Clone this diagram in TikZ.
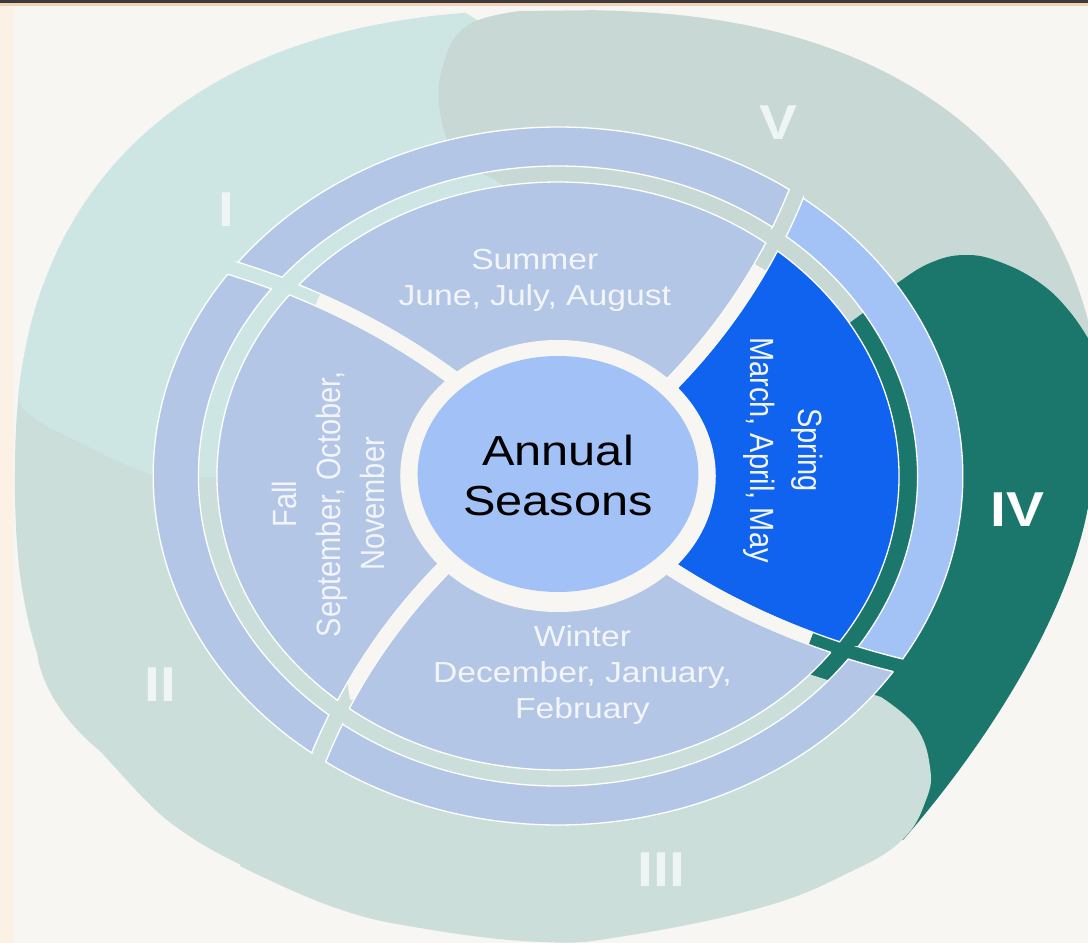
\documentclass[tikz,border=0pt]{standalone}
\usepackage{fontspec}
\setmainfont{Liberation Sans}
\definecolor{cream}{HTML}{F8F6F2}
\definecolor{edgepeach}{HTML}{FBF1E5}
\definecolor{topdark}{HTML}{3C3A3E}
\definecolor{toppeach}{HTML}{F3D2B4}
\definecolor{blobI}{HTML}{CDE5E3}
\definecolor{blobII}{HTML}{CBDEDA}
\definecolor{blobV}{HTML}{C8D9D5}
\definecolor{blobIV}{HTML}{1B776B}
\definecolor{seasonblue}{HTML}{B4C6E6}
\definecolor{springblue}{HTML}{0F63EE}
\definecolor{coreblue}{HTML}{A2C2F7}
\definecolor{bandlight}{HTML}{A3C3F6}
\definecolor{numlight}{HTML}{EEF5F4}
\definecolor{seasontext}{HTML}{F3F5FA}
% #1 style, #2 start separator, #3 end separator, #4 inner r, #5 outer r, #6 half gap
\newcommand{\ringsector}[6]{%
  \pgfmathsetmacro\rsAout{#2-7+0.05*#5+#6/#5*57.2958}%
  \pgfmathsetmacro\rsBout{#3-7+0.05*#5-#6/#5*57.2958}%
  \pgfmathsetmacro\rsAin{#2-7+0.05*#4+#6/#4*57.2958}%
  \pgfmathsetmacro\rsBin{#3-7+0.05*#4-#6/#4*57.2958}%
  \path[#1] plot[domain=#4:#5, samples=24, variable=\rr] ({#2-7+0.05*\rr+#6/\rr*57.2958}:{\rr})
    arc[start angle=\rsAout, end angle=\rsBout, radius=#5]
    -- plot[domain=#5:#4, samples=24, variable=\rr] ({#3-7+0.05*\rr-#6/\rr*57.2958}:{\rr})
    arc[start angle=\rsBin, end angle=\rsAin, radius=#4] -- cycle;}
\newcommand{\gapline}[1]{%
  \draw[cream, line width=14pt] plot[domain=124:272, samples=24, variable=\rr] ({#1-7+0.05*\rr}:{\rr});}
\begin{document}
\begin{tikzpicture}[x=1pt,y=1pt,
  seasonbox/.style={fill=seasonblue, draw=white, line width=1.3pt},
  springbox/.style={fill=springblue, draw=white, line width=1.3pt},
  bandbox/.style={fill=seasonblue, draw=white, line width=1.3pt},
  bandlightbox/.style={fill=bandlight, draw=white, line width=1.3pt},
  seasonlabel/.style={transform shape, text=seasontext, font=\fontsize{29}{36}\selectfont, align=center, inner sep=0pt},
  numeral/.style={transform shape, text=numlight, font=\fontsize{49}{49}\selectfont\bfseries, inner sep=0pt}]
\useasboundingbox (0,0) rectangle (1088,-943);
\fill[cream] (0,0) rectangle (1088,-943);
\fill[edgepeach] (0,0) rectangle (14,-943);
\fill[toppeach] (0,-2.5) rectangle (1088,-6);
\fill[topdark] (0,0) rectangle (1088,-2.5);
% background blobs (outline: superellipse centre (560,478), a=545, b=468)
\fill[blobII] (300,-380)
  -- plot[domain=160:198, samples=30, variable=\ang] ({560-545*pow(abs(cos(\ang)),0.8333)}, {-478-468*pow(abs(sin(\ang)),0.8333)*(sin(\ang)>0 ? -1 : 1)})
  .. controls (42,-690) and (70,-727) .. (100,-751)
  .. controls (125,-778) and (148,-805) .. (167,-820)
  .. controls (190,-838) and (215,-853) .. (250,-869)
  -- (350,-700) -- cycle;
\fill[blobI] (540,-60)
  -- plot[domain=97:172.8, samples=50, variable=\ang] ({560-545*pow(abs(cos(\ang)),0.8333)}, {-478+468*pow(abs(sin(\ang)),0.8333)})
  .. controls (16,-408) and (35,-422) .. (75,-440)
  .. controls (100,-452) and (130,-470) .. (165,-478)
  -- (300,-476) -- (500,-300) -- cycle;
\fill[blobV] plot[smooth, tension=0.7] coordinates {(520,-200) (497,-181) (459,-160) (440,-112) (444,-62) (468,-25) (520,-11)}
  -- plot[domain=88:10, samples=50, variable=\ang] ({560+545*pow(abs(cos(\ang)),0.8333)}, {-478+468*pow(abs(sin(\ang)),0.8333)})
  -- (1100,-420) -- (900,-420) -- (600,-300) -- cycle;
\fill[blobIV] plot[smooth, tension=0.7] coordinates {(875,-300) (896,-284) (930,-263) (965,-255) (1000,-262) (1040,-283) (1070,-312) (1092,-345)}
  -- (1092,-480) .. controls (1080,-600) and (990,-740) .. (903,-840)
  -- (780,-760) -- (760,-640) -- (780,-500) -- (840,-330) -- (863,-313) -- cycle;
\fill[blobII] plot[smooth, tension=0.7] coordinates {(240,-866) (333,-907) (420,-928) (541,-942) (625,-936) (763,-907) (850,-872) (902,-840) (926,-800) (930,-767) (916,-727) (881,-697)} -- (815,-676) -- (700,-640) -- (350,-700) -- cycle;
% wheel
\begin{scope}[shift={(558,-476)}, xscale=1.16]
  % outer band
  \ringsector{bandlightbox}{-43.3}{43.5}{310}{349}{7.5}
  \ringsector{bandbox}{43.5}{133}{310}{349}{7.5}
  \ringsector{bandbox}{133}{223.3}{310}{349}{7.5}
  \ringsector{bandbox}{223.3}{316.7}{310}{349}{7.5}
  % seasons
  \ringsector{springbox}{-43.3}{43.5}{128}{294}{6.5}
  \ringsector{seasonbox}{43.5}{133}{128}{294}{6.5}
  \ringsector{seasonbox}{133}{223.3}{128}{294}{6.5}
  \ringsector{seasonbox}{223.3}{316.7}{128}{294}{6.5}
  % separators and hub
  \gapline{43.5}
  \gapline{133}
  \gapline{223.3}
  \gapline{316.7}
  \fill[cream] (0,0) circle[radius=136];
  \fill[coreblue] (0,2) ellipse[x radius=121, y radius=118];
  % labels
  \node[transform shape, text=black, font=\fontsize{42}{50}\selectfont, align=center, inner sep=0pt] (annual) at (0,1) {Annual\\Seasons};
  \node[seasonlabel] (summer) at (-20,196) {Summer\\June, July, August};
  \node[seasonlabel] (winter) at (21,-199) {Winter\\December, January,\\February};
  \node[seasonlabel, rotate=90, font=\fontsize{29}{38}\selectfont] (fall) at (-198,-28) {Fall\\September, October,\\November};
  \node[seasonlabel, rotate=-90, font=\fontsize{29}{41}\selectfont] (spring) at (194,26) {Spring\\March, April, May};
  \node[numeral] (nI) at (-286,266) {I};
  \node[numeral] (nII) at (-343,-209) {II};
  \node[numeral] (nIII) at (89,-394) {III};
  \node[numeral, text=white] (nIV) at (396,-34) {IV};
  \node[numeral] (nV) at (190,353) {V};
\end{scope}
\end{tikzpicture}
\end{document}
